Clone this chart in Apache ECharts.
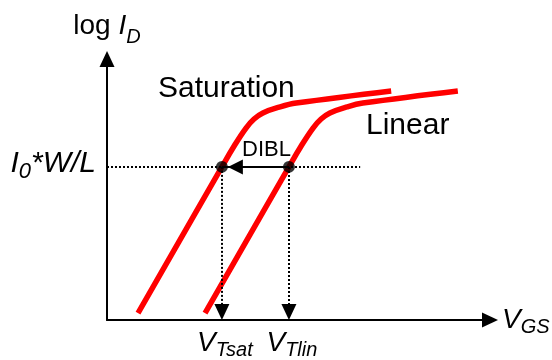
<!DOCTYPE html>
<html><head><meta charset="utf-8">
<script src="https://cdn.jsdelivr.net/npm/echarts@6/dist/echarts.min.js"></script>
<style>html,body{margin:0;padding:0;background:#fff}#c{width:552px;height:360px}</style>
</head><body><div id="c"></div>
<script>
// Curve data (x: V_GS, y: log I_D, arbitrary units)
const satX = [0.81, 3.00, 3.32, 3.63, 3.84, 4.07, 4.52, 4.94, 7.42];
const satY = [0.24, 5.28, 6.00, 6.62, 6.93, 7.14, 7.35, 7.48, 7.90];
const linX = [2.56, 4.75, 5.07, 5.38, 5.59, 5.82, 6.27, 6.68, 9.16];
const linY = [0.24, 5.28, 6.00, 6.62, 6.93, 7.14, 7.35, 7.48, 7.90];
const vtValues = [3.00, 4.75];          // V_Tsat, V_Tlin
const vtMain = ['V', 'V'];
const vtSub = ['Tsat', 'Tlin'];
const i0Level = 5.28;                   // I0*W/L
const refLineEnd = 6.61;
const curveNames = ['Saturation', 'Linear'];
const annotation = 'DIBL';

const FONT = '"Liberation Sans", Arial, sans-serif';
const zip = (xs, ys) => xs.map((x, i) => [x, ys[i]]);

const chart = echarts.init(document.getElementById('c'), null, {renderer: 'canvas'});
const option = {
  animation: false,
  backgroundColor: '#fff',
  grid: {left: 107, right: 62, top: 59, bottom: 40, containLabel: false, outerBoundsMode: 'none'},
  xAxis: {
    type: 'value', min: 0, max: 10,
    name: '{v|V}{s|GS}', nameLocation: 'end', nameGap: 12,
    nameTextStyle: {rich: {
      v: {fontFamily: FONT, fontSize: 28, fontStyle: 'italic', color: '#000'},
      s: {fontFamily: FONT, fontSize: 20, fontStyle: 'italic', color: '#000', padding: [14, 0, 0, 0]}
    }},
    axisLine: {show: true, onZero: false, symbol: ['none', 'triangle'], symbolSize: [15, 16],
      lineStyle: {color: '#000', width: 2}},
    axisTick: {show: false},
    splitLine: {show: false},
    axisLabel: {
      customValues: vtValues, margin: 7, padding: [0, 0, 0, 6],
      formatter: (v) => { const i = vtValues.indexOf(v); return i < 0 ? '' : '{v|' + vtMain[i] + '}{s|' + vtSub[i] + '}'; },
      rich: {
        v: {fontFamily: FONT, fontSize: 28, fontStyle: 'italic', color: '#000'},
        s: {fontFamily: FONT, fontSize: 20, fontStyle: 'italic', color: '#000', padding: [13, 0, 0, 0]}
      }
    }
  },
  yAxis: {
    type: 'value', min: 0, max: 9,
    name: '{r|log }{v|I}{s|D}', nameLocation: 'end', nameGap: 12,
    nameTextStyle: {align: 'center', rich: {
      r: {fontFamily: FONT, fontSize: 28, color: '#000'},
      v: {fontFamily: FONT, fontSize: 28, fontStyle: 'italic', color: '#000'},
      s: {fontFamily: FONT, fontSize: 20, fontStyle: 'italic', color: '#000', padding: [21, 0, 0, 0]}
    }},
    axisLine: {show: true, onZero: false, symbol: ['none', 'triangle'], symbolSize: [15, 16],
      lineStyle: {color: '#000', width: 2}},
    axisTick: {show: false},
    splitLine: {show: false},
    axisLabel: {
      customValues: [i0Level], margin: 11, padding: [0, 0, 6, 0],
      formatter: () => '{v|I}{s|0}{v|*W/L}',
      rich: {
        v: {fontFamily: FONT, fontSize: 30, fontStyle: 'italic', color: '#000'},
        s: {fontFamily: FONT, fontSize: 22, fontStyle: 'italic', color: '#000', padding: [16, 0, 0, 0]}
      }
    }
  },
  series: [
    {
      name: curveNames[0], type: 'line', data: zip(satX, satY), smooth: 0.4, showSymbol: false,
      lineStyle: {color: '#ff0000', width: 5.5}, z: 3, silent: true,
      markLine: {
        silent: true, symbol: ['none', 'none'], label: {show: false},
        lineStyle: {color: '#000', width: 2, type: [2, 2]},
        data: [[{coord: [0, i0Level]}, {coord: [refLineEnd, i0Level]}]]
      }
    },
    {
      name: curveNames[1], type: 'line', data: zip(linX, linY), smooth: 0.4, showSymbol: false,
      lineStyle: {color: '#ff0000', width: 5.5}, z: 3, silent: true,
      markLine: {
        silent: true, symbol: ['none', 'triangle'], symbolSize: [15, 16],
        symbolOffset: [0, [0, 8]], label: {show: false},
        lineStyle: {color: '#000', width: 2, type: [2, 2]},
        data: vtValues.map(v => [{coord: [v, i0Level]}, {coord: [v, 0]}])
      }
    },
    {
      name: 'points', type: 'scatter', data: vtValues.map(v => [v, i0Level]),
      symbolSize: 12, itemStyle: {color: '#000'}, z: 6, silent: true,
      markLine: {
        silent: true, symbol: ['none', 'triangle'], symbolSize: [15, 15],
        symbolOffset: [0, [0, 13.5]], label: {show: false},
        lineStyle: {color: '#000', width: 2, type: 'solid'},
        data: [[{coord: [vtValues[1], i0Level]}, {coord: [vtValues[0], i0Level]}]]
      }
    }
  ],
  graphic: [
    {type: 'text', left: 158, top: 74, style: {text: curveNames[0], font: '30px ' + FONT, fill: '#000'}},
    {type: 'text', left: 366, top: 111, style: {text: curveNames[1], font: '30px ' + FONT, fill: '#000'}},
    {type: 'text', left: 242, top: 139, style: {text: annotation, font: '22px ' + FONT, fill: '#000'}}
  ]
};
chart.setOption(option);
</script>
</body></html>
